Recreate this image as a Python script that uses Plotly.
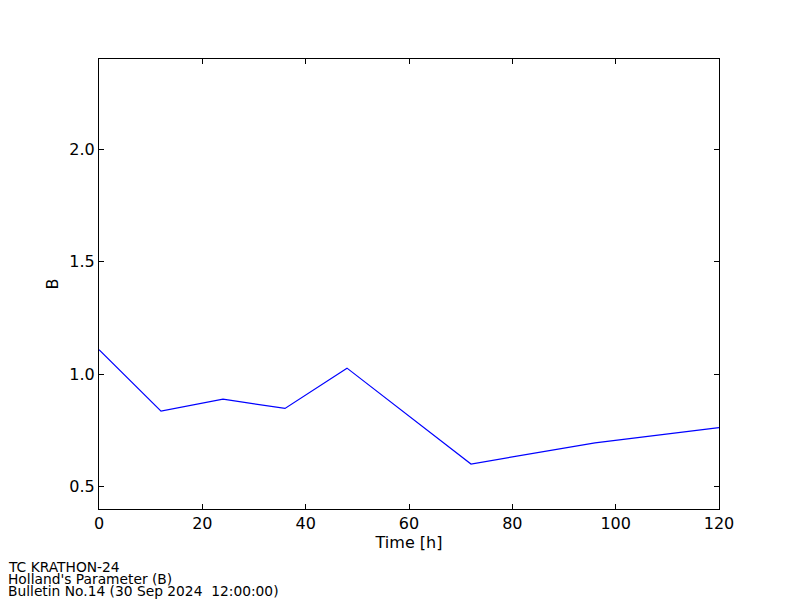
import plotly.graph_objects as go

time_h = [0, 12, 24, 36, 48, 72, 96, 120]
b_values = [1.108, 0.835, 0.888, 0.847, 1.026, 0.600, 0.694, 0.762]
x_ticks = [0, 20, 40, 60, 80, 100, 120]
y_ticks = [0.5, 1.0, 1.5, 2.0]
footer_lines = ["TC KRATHON-24", "Holland's Parameter (B)", "Bulletin No.14 (30 Sep 2024  12:00:00)"]

fig = go.Figure()
fig.add_trace(go.Scatter(x=time_h, y=b_values, mode="lines",
                         line=dict(color="#0000ff", width=1.2), showlegend=False))

axis_common = dict(showgrid=False, zeroline=False, showline=True, linecolor="black",
                   linewidth=1, mirror="ticks", ticks="inside", ticklen=5,
                   tickcolor="black", tickfont=dict(family="DejaVu Sans", size=16, color="black"))

fig.update_xaxes(range=[0, 120], tickvals=x_ticks, ticktext=[str(v) for v in x_ticks],
                 title=dict(text="Time [h]", font=dict(family="DejaVu Sans", size=16, color="black"), standoff=0),
                 **axis_common)
fig.update_yaxes(range=[0.4, 2.4], tickvals=y_ticks, ticktext=[f"{v:.1f}" for v in y_ticks],
                 title=dict(text="B", font=dict(family="DejaVu Sans", size=16, color="black"), standoff=6),
                 **axis_common)

for i, line in enumerate(footer_lines):
    fig.add_annotation(text=line, xref="paper", yref="paper", x=0, y=0,
                       xanchor="left", yanchor="top", showarrow=False, borderpad=0,
                       xshift=-92, yshift=-49 - 12 * i,
                       font=dict(family="DejaVu Sans", size=13.8, color="black"))

fig.update_layout(width=792, height=592, paper_bgcolor="white", plot_bgcolor="white",
                  margin=dict(l=91, r=81, t=51, b=91),
                  font=dict(family="DejaVu Sans", color="black"))

fig.write_html("out.html")
